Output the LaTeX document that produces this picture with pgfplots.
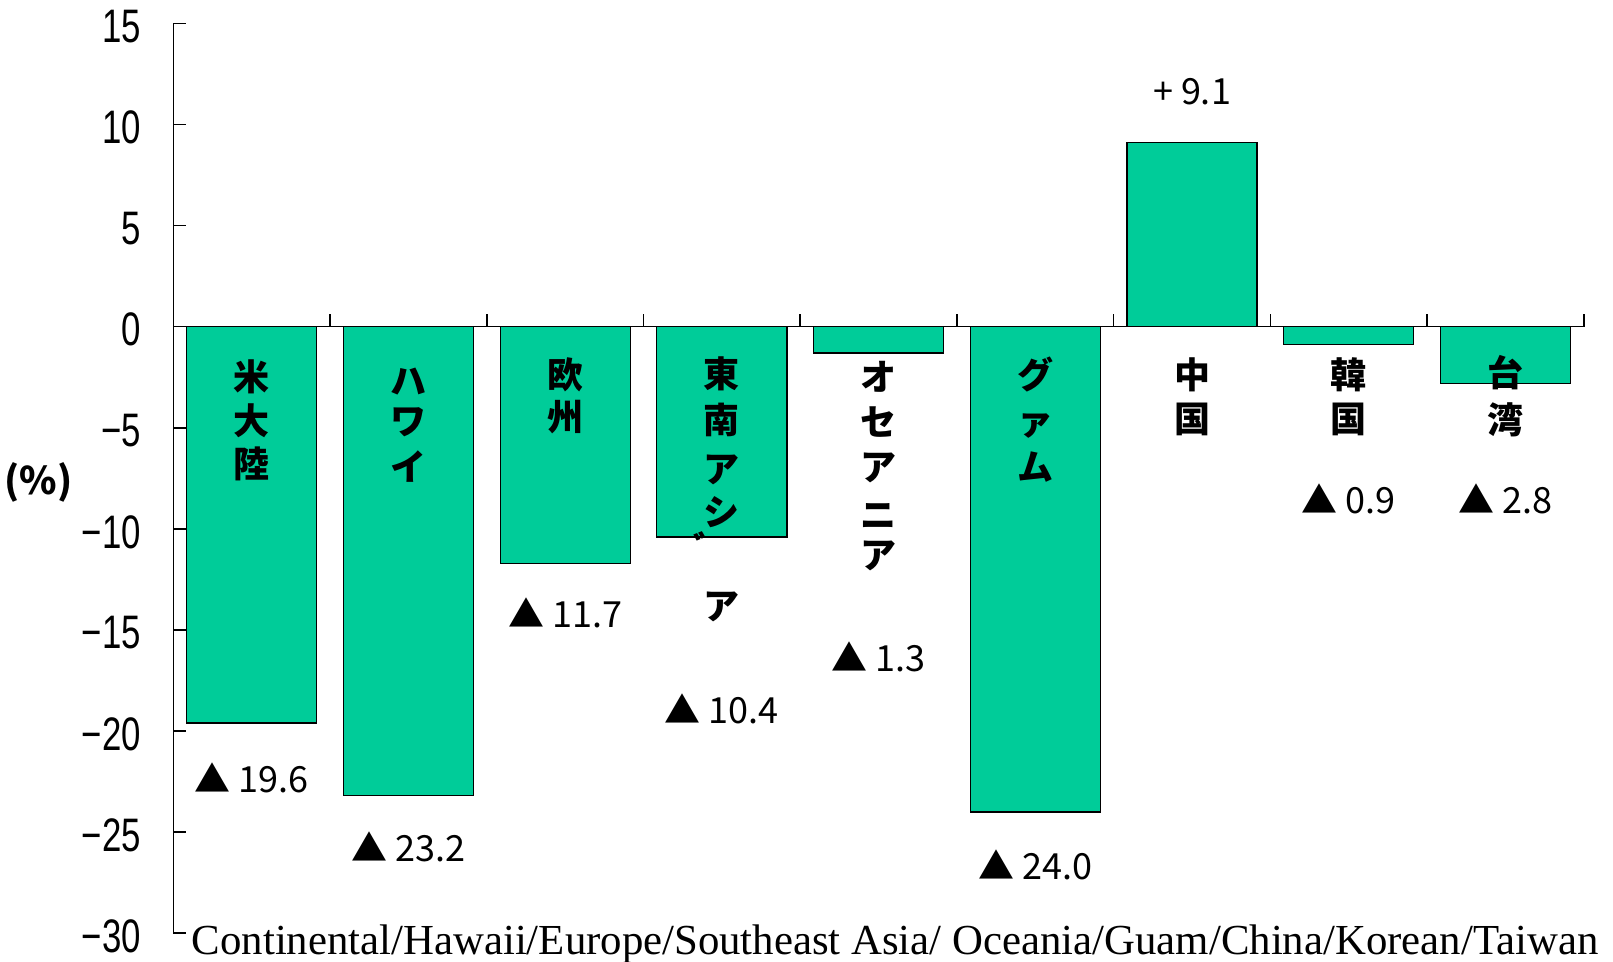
\documentclass[border=0pt]{standalone}
\usepackage{pgfplots}
\pgfplotsset{compat=1.18}
\usepackage{fontspec}
\setmainfont{Liberation Serif}
\newfontfamily\jp{Noto Sans CJK JP}
\newfontfamily\tickfont{Liberation Sans}[FakeStretch=0.74]
\definecolor{barcol}{RGB}{0,204,153}
\tikzset{
  jpl/.style={font=\jp\bfseries\fontsize{18}{18}\selectfont, inner sep=0pt},
  vl/.style={font=\jp\fontsize{18}{18}\selectfont, inner sep=0pt},
  ctick/.style={black, line width=0.8pt},
}
\begin{document}
\begin{tikzpicture}
\path[use as bounding box] (-86.7pt,-14.3pt) rectangle (719.9pt,466.7pt);
\begin{axis}[
  scale only axis, width=705.3pt, height=455pt,
  xmin=-0.5, xmax=8.5, ymin=-30, ymax=15,
  axis x line=none, axis y line*=left,
  clip=false,
  ytick={-30,-25,-20,-15,-10,-5,0,5,10,15},
  yticklabels={−30,−25,−20,−15,−10,−5,0,5,10,15},
  tick align=inside, major tick length=6.5pt,
  every tick/.style={black, line width=0.8pt},
  axis line style={black, line width=0.8pt},
  yticklabel style={font=\tickfont\fontsize{23.5}{23.5}\selectfont, inner sep=0pt, xshift=-16pt, yshift=-1.5pt},
]
\addplot[ybar, bar width=0.83, fill=barcol, draw=black, line width=0.6pt]
  coordinates {(0,-19.6) (1,-23.2) (2,-11.7) (3,-10.4) (4,-1.3) (5,-24.0) (6,9.1) (7,-0.9) (8,-2.8)};
% zero line and category ticks
\draw[ctick] (axis cs:-0.5,0) -- (axis cs:8.5,0);
\draw[ctick] (axis cs:0.5,0) -- ([yshift=6.5pt]axis cs:0.5,0);
\draw[ctick] (axis cs:1.5,0) -- ([yshift=6.5pt]axis cs:1.5,0);
\draw[ctick] (axis cs:2.5,0) -- ([yshift=6.5pt]axis cs:2.5,0);
\draw[ctick] (axis cs:3.5,0) -- ([yshift=6.5pt]axis cs:3.5,0);
\draw[ctick] (axis cs:4.5,0) -- ([yshift=6.5pt]axis cs:4.5,0);
\draw[ctick] (axis cs:5.5,0) -- ([yshift=6.5pt]axis cs:5.5,0);
\draw[ctick] (axis cs:6.5,0) -- ([yshift=6.5pt]axis cs:6.5,0);
\draw[ctick] (axis cs:7.5,0) -- ([yshift=6.5pt]axis cs:7.5,0);
\draw[ctick] (axis cs:8.5,0) -- ([yshift=6.5pt]axis cs:8.5,0);
% category names (vertical)
\node[jpl] at (axis cs:0,-2.47) {米};
\node[jpl] at (axis cs:0,-4.64) {大};
\node[jpl] at (axis cs:0,-6.81) {陸};
\node[jpl] at (axis cs:1,-2.71) {ハ};
\node[jpl] at (axis cs:1,-4.74) {ワ};
\node[jpl] at (axis cs:1,-6.91) {イ};
\node[jpl] at (axis cs:2,-2.37) {欧};
\node[jpl] at (axis cs:2,-4.49) {州};
\node[jpl] at (axis cs:3,-2.32) {東};
\node[jpl] at (axis cs:3,-4.59) {南};
\node[jpl] at (axis cs:3,-7.06) {ア};
\node[jpl] at (axis cs:3,-9.18) {シ};
\node[jpl, xshift=-5pt] at (axis cs:3,-10.90) {゛};
\node[jpl] at (axis cs:3,-13.86) {ア};
\node[jpl] at (axis cs:4,-2.47) {オ};
\node[jpl] at (axis cs:4,-4.74) {セ};
\node[jpl] at (axis cs:4,-6.96) {ア};
\node[jpl] at (axis cs:4,-9.37) {ニ};
\node[jpl] at (axis cs:4,-11.35) {ア};
\node[jpl] at (axis cs:5,-2.37) {グ};
\node[jpl] at (axis cs:5,-4.93) {ァ};
\node[jpl] at (axis cs:5,-6.96) {ム};
\node[jpl] at (axis cs:6,-2.37) {中};
\node[jpl] at (axis cs:6,-4.59) {国};
\node[jpl] at (axis cs:7,-2.37) {韓};
\node[jpl] at (axis cs:7,-4.59) {国};
\node[jpl] at (axis cs:8,-2.27) {台};
\node[jpl] at (axis cs:8,-4.59) {湾};
% value labels
\node[vl] at (axis cs:0,-22.30) {▲ 19.6};
\node[vl] at (axis cs:1,-25.75) {▲ 23.2};
\node[vl] at (axis cs:2,-14.15) {▲ 11.7};
\node[vl] at (axis cs:3,-18.90) {▲ 10.4};
\node[vl] at (axis cs:4,-16.33) {▲ 1.3};
\node[vl] at (axis cs:5,-26.64) {▲ 24.0};
\node[vl] at (axis cs:6,11.64) {+ 9.1};
\node[vl] at (axis cs:7,-8.54) {▲ 0.9};
\node[vl] at (axis cs:8,-8.54) {▲ 2.8};
% unit label
\node[font=\jp\bfseries\fontsize{19}{19}\selectfont, inner sep=0pt] at (axis cs:-1.36,-7.7) {(\%)};
% english category line
\node[anchor=base west, inner sep=0pt, font=\fontsize{21.4}{21.4}\selectfont]
  at ([xshift=9pt,yshift=-10.8pt]axis cs:-0.5,-30) {Continental/Hawaii/Europe/Southeast Asia/ Oceania/Guam/China/Korean/Taiwan};
\end{axis}
\end{tikzpicture}
\end{document}
